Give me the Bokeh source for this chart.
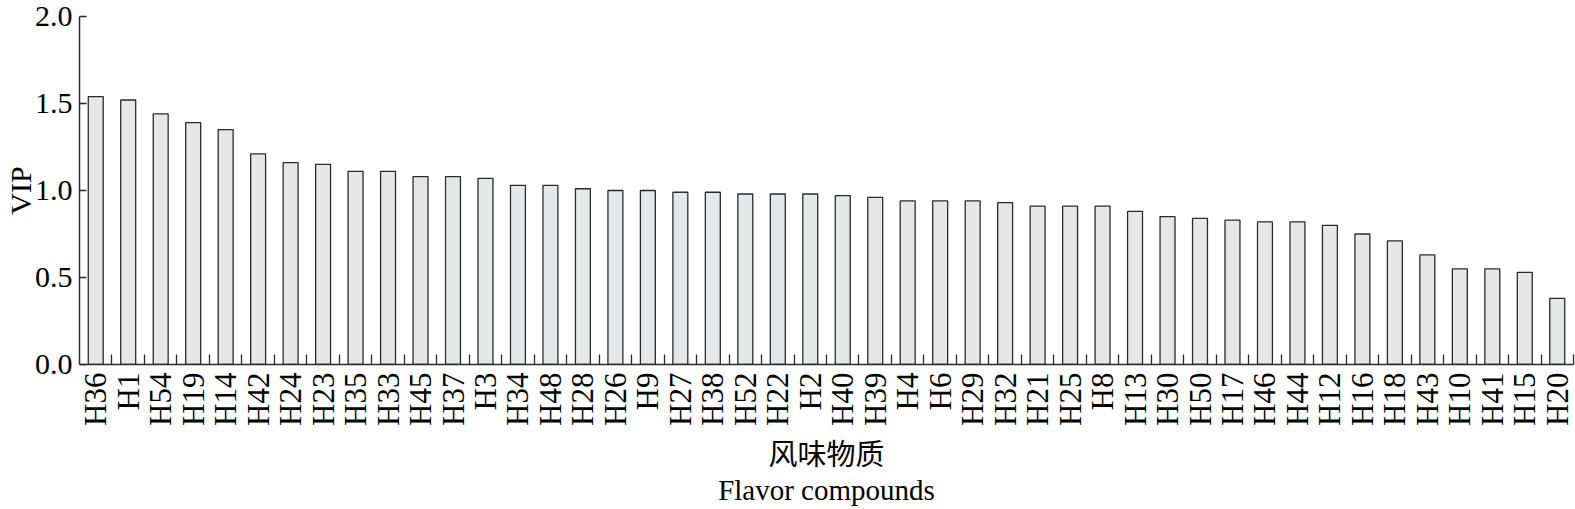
from bokeh.plotting import figure
from bokeh.models import FixedTicker, CustomJSTickFormatter, Range1d
from bokeh.embed import file_html
from bokeh.resources import INLINE

compounds = ["H36", "H1", "H54", "H19", "H14", "H42", "H24", "H23", "H35", "H33",
             "H45", "H37", "H3", "H34", "H48", "H28", "H26", "H9", "H27", "H38",
             "H52", "H22", "H2", "H40", "H39", "H4", "H6", "H29", "H32", "H21",
             "H25", "H8", "H13", "H30", "H50", "H17", "H46", "H44", "H12", "H16",
             "H18", "H43", "H10", "H41", "H15", "H20"]
vip = [1.54, 1.52, 1.44, 1.39, 1.35, 1.21, 1.16, 1.15, 1.11, 1.11,
       1.08, 1.08, 1.07, 1.03, 1.03, 1.01, 1.00, 1.00, 0.99, 0.99,
       0.98, 0.98, 0.98, 0.97, 0.96, 0.94, 0.94, 0.94, 0.93, 0.91,
       0.91, 0.91, 0.88, 0.85, 0.84, 0.83, 0.82, 0.82, 0.80, 0.75,
       0.71, 0.63, 0.55, 0.55, 0.53, 0.38]
y_ticks = [0.0, 0.5, 1.0, 1.5, 2.0]
x_title = "风味物质\nFlavor compounds"
y_title = "VIP"

n = len(compounds)
centers = [i + 0.5 for i in range(n)]
bounds = [i + 1 for i in range(n)]

SERIF = "'Liberation Serif', 'Noto Sans CJK SC'"
AX = "#2a2a2a"

p = figure(width=1575, height=509, output_backend="svg", toolbar_location=None,
           x_range=Range1d(0, n), y_range=Range1d(0, 2.0),
           min_border_left=0, min_border_right=2, min_border_top=16, min_border_bottom=0)

p.vbar(x=centers, top=vip, width=0.46, bottom=0,
       fill_color="#e6e7e9", line_color=AX, line_width=1.3)

p.grid.visible = False
p.outline_line_color = None

xa = p.xaxis[0]
xa.ticker = FixedTicker(ticks=centers, minor_ticks=bounds)
xa.formatter = CustomJSTickFormatter(args=dict(names=compounds),
                                     code="return names[Math.floor(tick)];")
xa.major_label_orientation = 3.14159265 / 2
xa.major_tick_in = 0
xa.major_tick_out = 0
xa.minor_tick_in = 10
xa.minor_tick_out = 0
xa.minor_tick_line_color = AX
xa.minor_tick_line_width = 1.3
xa.axis_line_color = AX
xa.axis_line_width = 1.5
xa.major_label_text_font = SERIF
xa.major_label_text_font_size = "31px"
xa.major_label_text_color = "black"
xa.major_label_standoff = 8
xa.axis_label = x_title
xa.axis_label_text_font = SERIF
xa.axis_label_text_font_size = "29px"
xa.axis_label_text_font_style = "normal"
xa.axis_label_text_color = "black"
xa.axis_label_text_line_height = 1.1
xa.axis_label_standoff = 10

ya = p.yaxis[0]
ya.ticker = FixedTicker(ticks=y_ticks)
ya.major_label_overrides = {t: "%.1f" % t for t in y_ticks}
ya.major_tick_in = 7
ya.major_tick_out = 0
ya.minor_tick_line_color = None
ya.axis_line_color = AX
ya.axis_line_width = 1.5
ya.major_tick_line_color = AX
ya.major_tick_line_width = 1.5
ya.major_label_text_font = SERIF
ya.major_label_text_font_size = "30px"
ya.major_label_text_color = "black"
ya.major_label_standoff = 7
ya.axis_label = y_title
ya.axis_label_text_font = SERIF
ya.axis_label_text_font_size = "30px"
ya.axis_label_text_font_style = "normal"
ya.axis_label_text_color = "black"
ya.axis_label_standoff = -5

open("out.html", "w").write(file_html(p, INLINE))
